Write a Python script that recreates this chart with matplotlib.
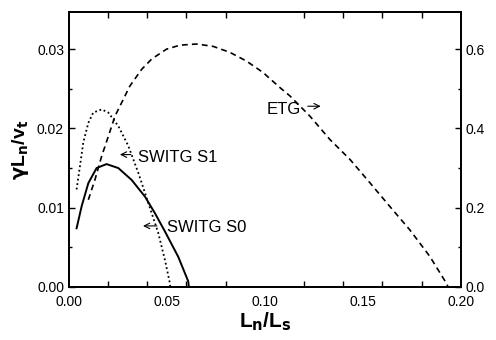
#!/usr/bin/env python3

# Imports
import matplotlib
matplotlib.use('Agg')
import matplotlib.pyplot as plt
from matplotlib.ticker import MultipleLocator, FormatStrFormatter

plt.rcParams['font.family'] = ['Liberation Sans', 'DejaVu Sans']

# Data
# SWITG S0 (solid, left axis)
s0_x = [0.0039, 0.0065, 0.0099, 0.0141, 0.0192, 0.0252, 0.032, 0.0388, 0.0439, 0.049, 0.0558, 0.0609, 0.0612]
s0_y = [0.0074, 0.0102, 0.0131, 0.0150, 0.0155, 0.0150, 0.0135, 0.0114, 0.0093, 0.0070, 0.0038, 0.0007, 0.0]

# SWITG S1 (dotted, left axis)
s1_x = [0.0039, 0.0056, 0.0073, 0.0099, 0.0124, 0.0167, 0.0201, 0.0252, 0.0303, 0.0354, 0.0405,
        0.0456, 0.049, 0.0515, 0.0517]
s1_y = [0.0123, 0.0152, 0.0182, 0.0207, 0.0220, 0.0224, 0.0220, 0.0203, 0.0178, 0.0144, 0.0106,
        0.0068, 0.0034, 0.0005, 0.0]

# ETG (dashed, right axis)
etg_x = [0.0099, 0.0133, 0.0167, 0.0201, 0.0235, 0.0277, 0.0311, 0.0371, 0.0422, 0.0498, 0.0566,
         0.0651, 0.0736, 0.0821, 0.0906, 0.0991, 0.1077, 0.1128, 0.123, 0.1332, 0.1434, 0.1536,
         0.1638, 0.174, 0.1842, 0.1927, 0.1935]
etg_y = [0.220, 0.271, 0.330, 0.380, 0.431, 0.473, 0.507, 0.549, 0.575, 0.600, 0.610,
         0.613, 0.607, 0.592, 0.570, 0.541, 0.503, 0.482, 0.431, 0.372, 0.322, 0.263,
         0.203, 0.144, 0.077, 0.009, 0.0]

# Creating the figure and the two axes
fig = plt.figure(figsize=(4.96, 3.4), dpi=100, facecolor='w')
ax = fig.add_axes([0.139, 0.156, 0.79, 0.809])
ax2 = ax.twinx()

ax.plot(s0_x, s0_y, '-', color='k', lw=1.4)
ax.plot(s1_x, s1_y, color='k', lw=1.3, linestyle=(0, (1, 1.5)))
ax2.plot(etg_x, etg_y, color='k', lw=1.2, linestyle=(0, (3.5, 2.5)))

# Limits and ticks
ax.set_xlim(0, 0.2)
ax.set_ylim(0, 0.0347)
ax2.set_ylim(0, 0.694)

ax.xaxis.set_major_locator(MultipleLocator(0.05))
ax.xaxis.set_minor_locator(MultipleLocator(0.02))
ax.yaxis.set_major_locator(MultipleLocator(0.01))
ax.yaxis.set_minor_locator(MultipleLocator(0.005))
ax2.yaxis.set_major_locator(MultipleLocator(0.2))
ax2.yaxis.set_minor_locator(MultipleLocator(0.1))

ax.tick_params(axis='x', which='major', length=0, labelsize=10, pad=6)
ax.tick_params(axis='x', which='minor', direction='in', length=4, width=1, top=True)
ax.tick_params(axis='y', which='major', direction='in', length=4, width=1, labelsize=10)
ax.tick_params(axis='y', which='minor', direction='in', length=2, width=1)
ax2.tick_params(axis='y', which='major', direction='in', length=4, width=1, labelsize=10)
ax2.tick_params(axis='y', which='minor', direction='in', length=2, width=1)

ax.xaxis.set_major_formatter(FormatStrFormatter('%.2f'))
ax.yaxis.set_major_formatter(FormatStrFormatter('%.2f'))
ax2.yaxis.set_major_formatter(FormatStrFormatter('%.1f'))

for a in (ax, ax2):
    for s in a.spines.values():
        s.set_linewidth(1.3)

# Axis labels
ax.set_xlabel('L$_\\mathbf{n}$/L$_\\mathbf{s}$', fontsize=15, fontweight='bold', labelpad=1)
ax.set_ylabel('$\\mathbf{\\gamma}$L$_\\mathbf{n}$/v$_\\mathbf{t}$', fontsize=14, fontweight='bold', labelpad=4)

# Curve labels with small arrows
ax2.text(0.101, 0.448, 'ETG', fontsize=12, va='center')
ax2.annotate('', xy=(0.1285, 0.456), xytext=(0.1219, 0.456),
             arrowprops=dict(arrowstyle='->', lw=0.8, color='k', shrinkA=0, shrinkB=0))
ax.text(0.0352, 0.0163, 'SWITG S1', fontsize=12, va='center')
ax.annotate('', xy=(0.026, 0.0167), xytext=(0.0316, 0.0167),
            arrowprops=dict(arrowstyle='->', lw=0.8, color='k', shrinkA=0, shrinkB=0))
ax.text(0.05, 0.0075, 'SWITG S0', fontsize=12, va='center')
ax.annotate('', xy=(0.0378, 0.0077), xytext=(0.0449, 0.0077),
            arrowprops=dict(arrowstyle='->', lw=0.8, color='k', shrinkA=0, shrinkB=0))

# Saving the plot
fig.savefig('out.png', dpi=100)
